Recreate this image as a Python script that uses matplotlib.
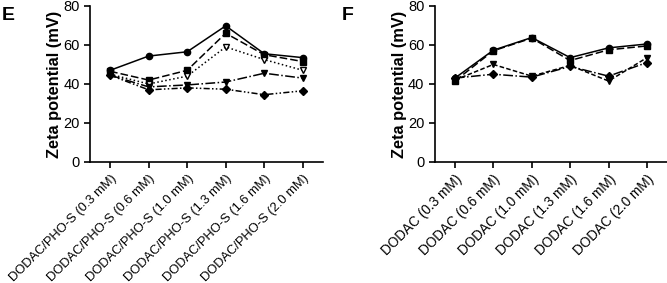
import matplotlib
matplotlib.use("Agg")
import matplotlib.pyplot as plt
import numpy as np

plt.rcParams['font.family'] = ['Liberation Sans', 'DejaVu Sans']

labels_e = ["DODAC/PHO-S (0.3 mM)", "DODAC/PHO-S (0.6 mM)", "DODAC/PHO-S (1.0 mM)",
            "DODAC/PHO-S (1.3 mM)", "DODAC/PHO-S (1.6 mM)", "DODAC/PHO-S (2.0 mM)"]
labels_f = ["DODAC (0.3 mM)", "DODAC (0.6 mM)", "DODAC (1.0 mM)",
            "DODAC (1.3 mM)", "DODAC (1.6 mM)", "DODAC (2.0 mM)"]

# panel E series
e_circle = [47, 54.3, 56.5, 69.8, 55.5, 53.5]
e_square = [46.5, 42, 47, 66, 55, 51.5]
e_tri_open = [45, 40, 44, 59, 52.5, 47]
e_tri = [44.5, 38.5, 39.5, 41, 45.5, 43]
e_diamond = [44.5, 37, 38, 37.3, 34.5, 36.5]

# panel F series
f_circle = [43, 57.3, 63.8, 53.5, 58.5, 60.5]
f_square = [41.5, 57, 63.5, 52, 57.5, 59.5]
f_tri = [42, 50, 44, 49.5, 41.5, 53.5]
f_diamond = [43, 45, 43.5, 49, 44, 51]

fig = plt.figure(figsize=(6.67, 2.83), dpi=100)
ax1 = fig.add_axes([0.135, 0.4276, 0.349, 0.5514])
ax2 = fig.add_axes([0.652, 0.4276, 0.348, 0.5514])

x = np.arange(6)
kw = dict(color='black', lw=1.1, ms=4.5)

ax1.plot(x, e_circle, '-', marker='o', **kw)
ax1.plot(x, e_square, '--', marker='s', dashes=(5, 2), **kw)
ax1.plot(x, e_tri_open, ':', marker='v', mfc='white', **kw)
ax1.plot(x, e_tri, '-.', marker='v', **kw)
ax1.plot(x, e_diamond, '-', marker='D', dashes=(4, 1.5, 1, 1.5, 1, 1.5), **kw)

ax2.plot(x, f_circle, '-', marker='o', **kw)
ax2.plot(x, f_square, '--', marker='s', dashes=(5, 2), **kw)
ax2.plot(x, f_tri, '--', marker='v', dashes=(3, 1.5), **kw)
ax2.plot(x, f_diamond, '-.', marker='D', **kw)

for ax, labs, fs in [(ax1, labels_e, 9.3), (ax2, labels_f, 9.8)]:
    ax.set_ylim(0, 80)
    ax.set_yticks([0, 20, 40, 60, 80])
    ax.set_xlim(-0.52, 5.52)
    ax.set_xticks(x)
    ax.set_xticklabels(labs, rotation=45, ha='right', rotation_mode='anchor', fontsize=fs)
    ax.tick_params(axis='y', labelsize=10.5, length=4, width=1.2)
    ax.tick_params(axis='x', length=4, width=1.2)
    ax.spines['top'].set_visible(False)
    ax.spines['right'].set_visible(False)
    ax.spines['left'].set_linewidth(1.2)
    ax.spines['bottom'].set_linewidth(1.2)
    ax.set_ylabel("Zeta potential (mV)", fontsize=11.8, fontweight='bold', labelpad=1)

fig.text(0.003, 0.975, 'E', fontsize=14, fontweight='bold', va='top')
fig.text(0.512, 0.975, 'F', fontsize=14, fontweight='bold', va='top')

fig.savefig("out.png", dpi=100)
